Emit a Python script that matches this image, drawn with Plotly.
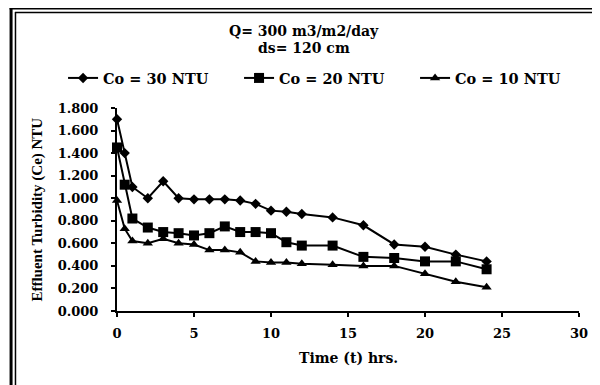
import plotly.graph_objects as go

# Data
time_30 = [0, 0.5, 1, 2, 3, 4, 5, 6, 7, 8, 9, 10, 11, 12, 14, 16, 18, 20, 22, 24]
ce_30 = [1.70, 1.40, 1.10, 1.00, 1.15, 1.00, 0.99, 0.99, 0.99, 0.98, 0.95, 0.89, 0.88, 0.86, 0.83, 0.76, 0.59, 0.57, 0.50, 0.44]

time_20 = [0, 0.5, 1, 2, 3, 4, 5, 6, 7, 8, 9, 10, 11, 12, 14, 16, 18, 20, 22, 24]
ce_20 = [1.45, 1.12, 0.82, 0.74, 0.70, 0.69, 0.67, 0.69, 0.75, 0.70, 0.70, 0.69, 0.61, 0.58, 0.58, 0.48, 0.47, 0.44, 0.44, 0.37]

time_10 = [0, 0.5, 1, 2, 3, 4, 5, 6, 7, 8, 9, 10, 11, 12, 14, 16, 18, 20, 22, 24]
ce_10 = [0.98, 0.73, 0.62, 0.60, 0.64, 0.60, 0.59, 0.54, 0.54, 0.52, 0.44, 0.43, 0.43, 0.42, 0.41, 0.40, 0.40, 0.33, 0.26, 0.21]

series_names = ["Co = 30 NTU", "Co = 20 NTU", "Co = 10 NTU"]
x_ticks = [0, 5, 10, 15, 20, 25, 30]
y_ticks = [0.0, 0.2, 0.4, 0.6, 0.8, 1.0, 1.2, 1.4, 1.6, 1.8]

# The page body has an 8px margin, so the figure is drawn 8px smaller and
# every reference pixel position is shifted by OFF.
OFF = 8
W, H = 600 - OFF, 385 - OFF
L, R, T, B = 117 - OFF, 12, 108 - OFF, 74
PW = W - L - R
PH = H - T - B

def px(x):
    return (x - OFF - L) / PW

def py(y):
    return (H - B - (y - OFF)) / PH

def bold(size, family="DejaVu Serif"):
    return dict(family=family, size=size, color="black", weight="bold")

fig = go.Figure()
symbols = ["diamond", "square", "triangle-up"]
sizes = [8, 10, 9]
for xs, ys, name, sym, sz in zip([time_30, time_20, time_10], [ce_30, ce_20, ce_10],
                                 series_names, symbols, sizes):
    fig.add_trace(go.Scatter(
        x=xs, y=ys, name=name, mode="lines+markers",
        line=dict(color="black", width=2),
        marker=dict(symbol=sym, size=sz, color="black"),
        cliponaxis=False,
    ))

fig.update_layout(
    width=W, height=H,
    margin=dict(l=L, r=R, t=T, b=B),
    paper_bgcolor="white", plot_bgcolor="white",
    showlegend=True,
    legend=dict(orientation="h", x=px(62), xanchor="left", y=py(78), yanchor="middle",
                font=bold(14.5), bgcolor="rgba(0,0,0,0)",
                entrywidth=131, entrywidthmode="pixels"),
    xaxis=dict(range=[0, 30], tickvals=x_ticks, ticktext=[str(v) for v in x_ticks],
               showline=True, linecolor="black", linewidth=2, ticks="outside", ticklen=4,
               tickwidth=2, tickcolor="black", showgrid=False, zeroline=False,
               tickfont=bold(13), ticklabelstandoff=5, fixedrange=True),
    yaxis=dict(range=[0, 1.8], tickvals=y_ticks, ticktext=[f"{v:.3f}" for v in y_ticks],
               showline=True, linecolor="black", linewidth=2, ticks="outside", ticklen=4,
               tickwidth=2, tickcolor="black", showgrid=False, zeroline=False,
               tickfont=bold(13), ticklabelstandoff=10, fixedrange=True),
    annotations=[
        dict(text="Q= 300 m3/m2/day", x=px(308), y=py(31), xref="paper", yref="paper",
             xanchor="center", yanchor="middle", showarrow=False, font=bold(14)),
        dict(text="ds= 120 cm", x=px(308), y=py(48), xref="paper", yref="paper",
             xanchor="center", yanchor="middle", showarrow=False, font=bold(14)),
        dict(text="Time (t) hrs.", x=px(353), y=py(358), xref="paper", yref="paper",
             xanchor="center", yanchor="middle", showarrow=False, font=bold(14)),
        dict(text="Effluent Turbidity (Ce) NTU", x=px(35), y=py(210), xref="paper", yref="paper",
             xanchor="center", yanchor="middle", showarrow=False, textangle=-90,
             font=bold(15, "Liberation Serif")),
    ],
    shapes=[
        dict(type="line", xref="paper", yref="paper", x0=px(9), x1=px(9), y0=py(7), y1=py(400),
             line=dict(color="black", width=3)),
        dict(type="line", xref="paper", yref="paper", x0=px(7.5), x1=px(610), y0=py(8), y1=py(8),
             line=dict(color="black", width=3)),
        dict(type="line", xref="paper", yref="paper", x0=px(13.5), x1=px(13.5), y0=py(12), y1=py(400),
             line=dict(color="black", width=1.5)),
        dict(type="line", xref="paper", yref="paper", x0=px(13), x1=px(610), y0=py(12.5), y1=py(12.5),
             line=dict(color="black", width=1.5)),
    ],
)

fig.write_html("out.html")
